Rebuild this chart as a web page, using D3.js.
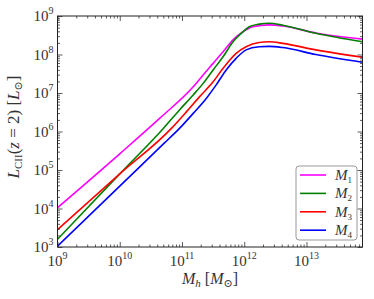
<!DOCTYPE html>
<html><head><meta charset="utf-8">
<script src="https://cdn.jsdelivr.net/npm/d3@7"></script>
<style>
body{margin:0;background:#fff;}
svg{display:block;}
text{font-family:"Liberation Serif","DejaVu Serif",serif;fill:#333;}
</style></head>
<body>
<div id="chart"></div>
<script>
// Data: log10 halo mass and log10 L_CII for each model
const seriesNames = ["M1","M2","M3","M4"];
const seriesColors = ["#ff00ff","#008000","#ff0000","#0000ff"];
const logM1 = [9,10,10.64,11.18,11.34,11.5,11.66,11.82,11.98,12.14,12.4,12.62,13.15,13.9];
const logL1 = [4.02,5.42,6.34,7.16,7.47,7.77,8.07,8.38,8.59,8.72,8.77,8.74,8.56,8.40];
const logM2 = [9,10,10.7,10.96,11.18,11.34,11.5,11.66,11.82,11.98,12.08,12.24,12.4,12.62,13.15,13.9];
const logL2 = [3.20,4.90,6.08,6.56,6.95,7.25,7.60,7.94,8.33,8.59,8.72,8.79,8.81,8.76,8.55,8.33];
const logM3 = [9,10,10.83,11.07,11.28,11.5,11.66,11.87,12.03,12.24,12.4,12.62,13.15,13.9];
const logL3 = [3.45,4.90,6.08,6.51,6.90,7.29,7.64,8.03,8.20,8.31,8.33,8.29,8.12,7.93];
const logM4 = [9,10,10.71,10.96,11.18,11.39,11.55,11.71,11.87,12.03,12.24,12.4,12.62,13.15,13.9];
const logL4 = [3.02,4.58,5.69,6.08,6.47,6.86,7.21,7.60,7.90,8.12,8.20,8.21,8.18,8.00,7.80];
const xMajorExp = [9,10,11,12,13];
const yMajorExp = [3,4,5,6,7,8,9];

const W=374,H=299;
const L=57.5,R=362.5,T=16,B=247;
const svg=d3.select("#chart").append("svg").attr("width",W).attr("height",H);
const x=d3.scaleLog().domain([1e9,Math.pow(10,13.9)]).range([L,R]);
const y=d3.scaleLog().domain([1e3,1e9]).range([B,T]);

const seriesM=[logM1,logM2,logM3,logM4], seriesL=[logL1,logL2,logL3,logL4];

svg.append("clipPath").attr("id","clip").append("rect").attr("x",L).attr("y",T).attr("width",R-L).attr("height",B-T);

const line=d3.line().x(d=>x(Math.pow(10,d[0]))).y(d=>y(Math.pow(10,d[1]))).curve(d3.curveMonotoneX);
seriesM.forEach((ms,i)=>{
  const pts=ms.map((m,j)=>[m,seriesL[i][j]]);
  svg.append("path").attr("d",line(pts)).attr("fill","none").attr("stroke",seriesColors[i])
    .attr("stroke-width",1.6).attr("clip-path","url(#clip)");
});

const xMinor=[], yMinor=[];
for(let e=9;e<=13;e++) for(let k=2;k<=9;k++){const v=k*Math.pow(10,e); if(v<=Math.pow(10,13.9)) xMinor.push(v);}
for(let e=3;e<9;e++) for(let k=2;k<=9;k++) yMinor.push(k*Math.pow(10,e));
const xMaj=xMajorExp.map(e=>Math.pow(10,e)), yMaj=yMajorExp.map(e=>Math.pow(10,e));

function axisG(gen,tr){const g=svg.append("g").attr("transform",tr).call(gen);g.select(".domain").remove();g.selectAll("line").attr("stroke","#333").attr("stroke-width",0.8);return g;}
axisG(d3.axisBottom(x).tickValues(xMaj).tickSize(-5).tickFormat(""),`translate(0,${B})`);
axisG(d3.axisBottom(x).tickValues(xMinor).tickSize(-2.5).tickFormat(""),`translate(0,${B})`);
axisG(d3.axisTop(x).tickValues(xMaj).tickSize(-5).tickFormat(""),`translate(0,${T})`);
axisG(d3.axisTop(x).tickValues(xMinor).tickSize(-2.5).tickFormat(""),`translate(0,${T})`);
axisG(d3.axisLeft(y).tickValues(yMaj).tickSize(-5).tickFormat(""),`translate(${L},0)`);
axisG(d3.axisLeft(y).tickValues(yMinor).tickSize(-2.5).tickFormat(""),`translate(${L},0)`);
axisG(d3.axisRight(y).tickValues(yMaj).tickSize(-5).tickFormat(""),`translate(${R},0)`);
axisG(d3.axisRight(y).tickValues(yMinor).tickSize(-2.5).tickFormat(""),`translate(${R},0)`);

svg.append("rect").attr("x",L).attr("y",T).attr("width",R-L).attr("height",B-T).attr("fill","none").attr("stroke","#222").attr("stroke-width",1);

xMajorExp.forEach(e=>{
  const t=svg.append("text").attr("x",x(Math.pow(10,e))).attr("y",B+19).attr("text-anchor","middle").attr("font-size",15);
  t.append("tspan").text("10");
  t.append("tspan").attr("dy",-7).attr("font-size",10).text(e);
});
yMajorExp.forEach(e=>{
  const t=svg.append("text").attr("x",L-4).attr("y",y(Math.pow(10,e))+5).attr("text-anchor","end").attr("font-size",15);
  t.append("tspan").text("10");
  t.append("tspan").attr("dy",-7).attr("font-size",10).text(e);
});

const xl=svg.append("text").attr("x",(L+R)/2).attr("y",284).attr("text-anchor","middle").attr("font-size",16);
xl.append("tspan").attr("font-style","italic").text("M");
xl.append("tspan").attr("font-style","italic").attr("font-size",11).attr("dy",3).text("h");
xl.append("tspan").attr("dy",-3).text(" [");
xl.append("tspan").attr("font-style","italic").text("M");
xl.append("tspan").attr("font-size",11).attr("dy",3).text("⊙");
xl.append("tspan").attr("dy",-3).text("]");

const yl=svg.append("text").attr("transform",`translate(19,127) rotate(-90)`).attr("text-anchor","middle").attr("font-size",17);
yl.append("tspan").attr("font-style","italic").text("L");
yl.append("tspan").attr("font-size",11).attr("dy",3).text("CII");
yl.append("tspan").attr("dy",-3).text("(");
yl.append("tspan").attr("font-style","italic").text("z");
yl.append("tspan").text(" = 2) [");
yl.append("tspan").attr("font-style","italic").text("L");
yl.append("tspan").attr("font-size",11).attr("dy",3).text("⊙");
yl.append("tspan").attr("dy",-3).text("]");

const lg=svg.append("g");
lg.append("rect").attr("x",296).attr("y",166).attr("width",61).attr("height",74).attr("rx",3)
  .attr("fill","#fff").attr("fill-opacity",0.9).attr("stroke","#999").attr("stroke-width",1);
seriesNames.forEach((n,i)=>{
  const yy=175+i*18.4;
  lg.append("line").attr("x1",300).attr("x2",326).attr("y1",yy).attr("y2",yy).attr("stroke",seriesColors[i]).attr("stroke-width",1.6);
  const t=lg.append("text").attr("x",335).attr("y",yy+5).attr("font-size",15);
  t.append("tspan").attr("font-style","italic").text("M");
  t.append("tspan").attr("font-size",9).attr("dy",3).text(n.slice(1));
});
</script>
</body></html>
